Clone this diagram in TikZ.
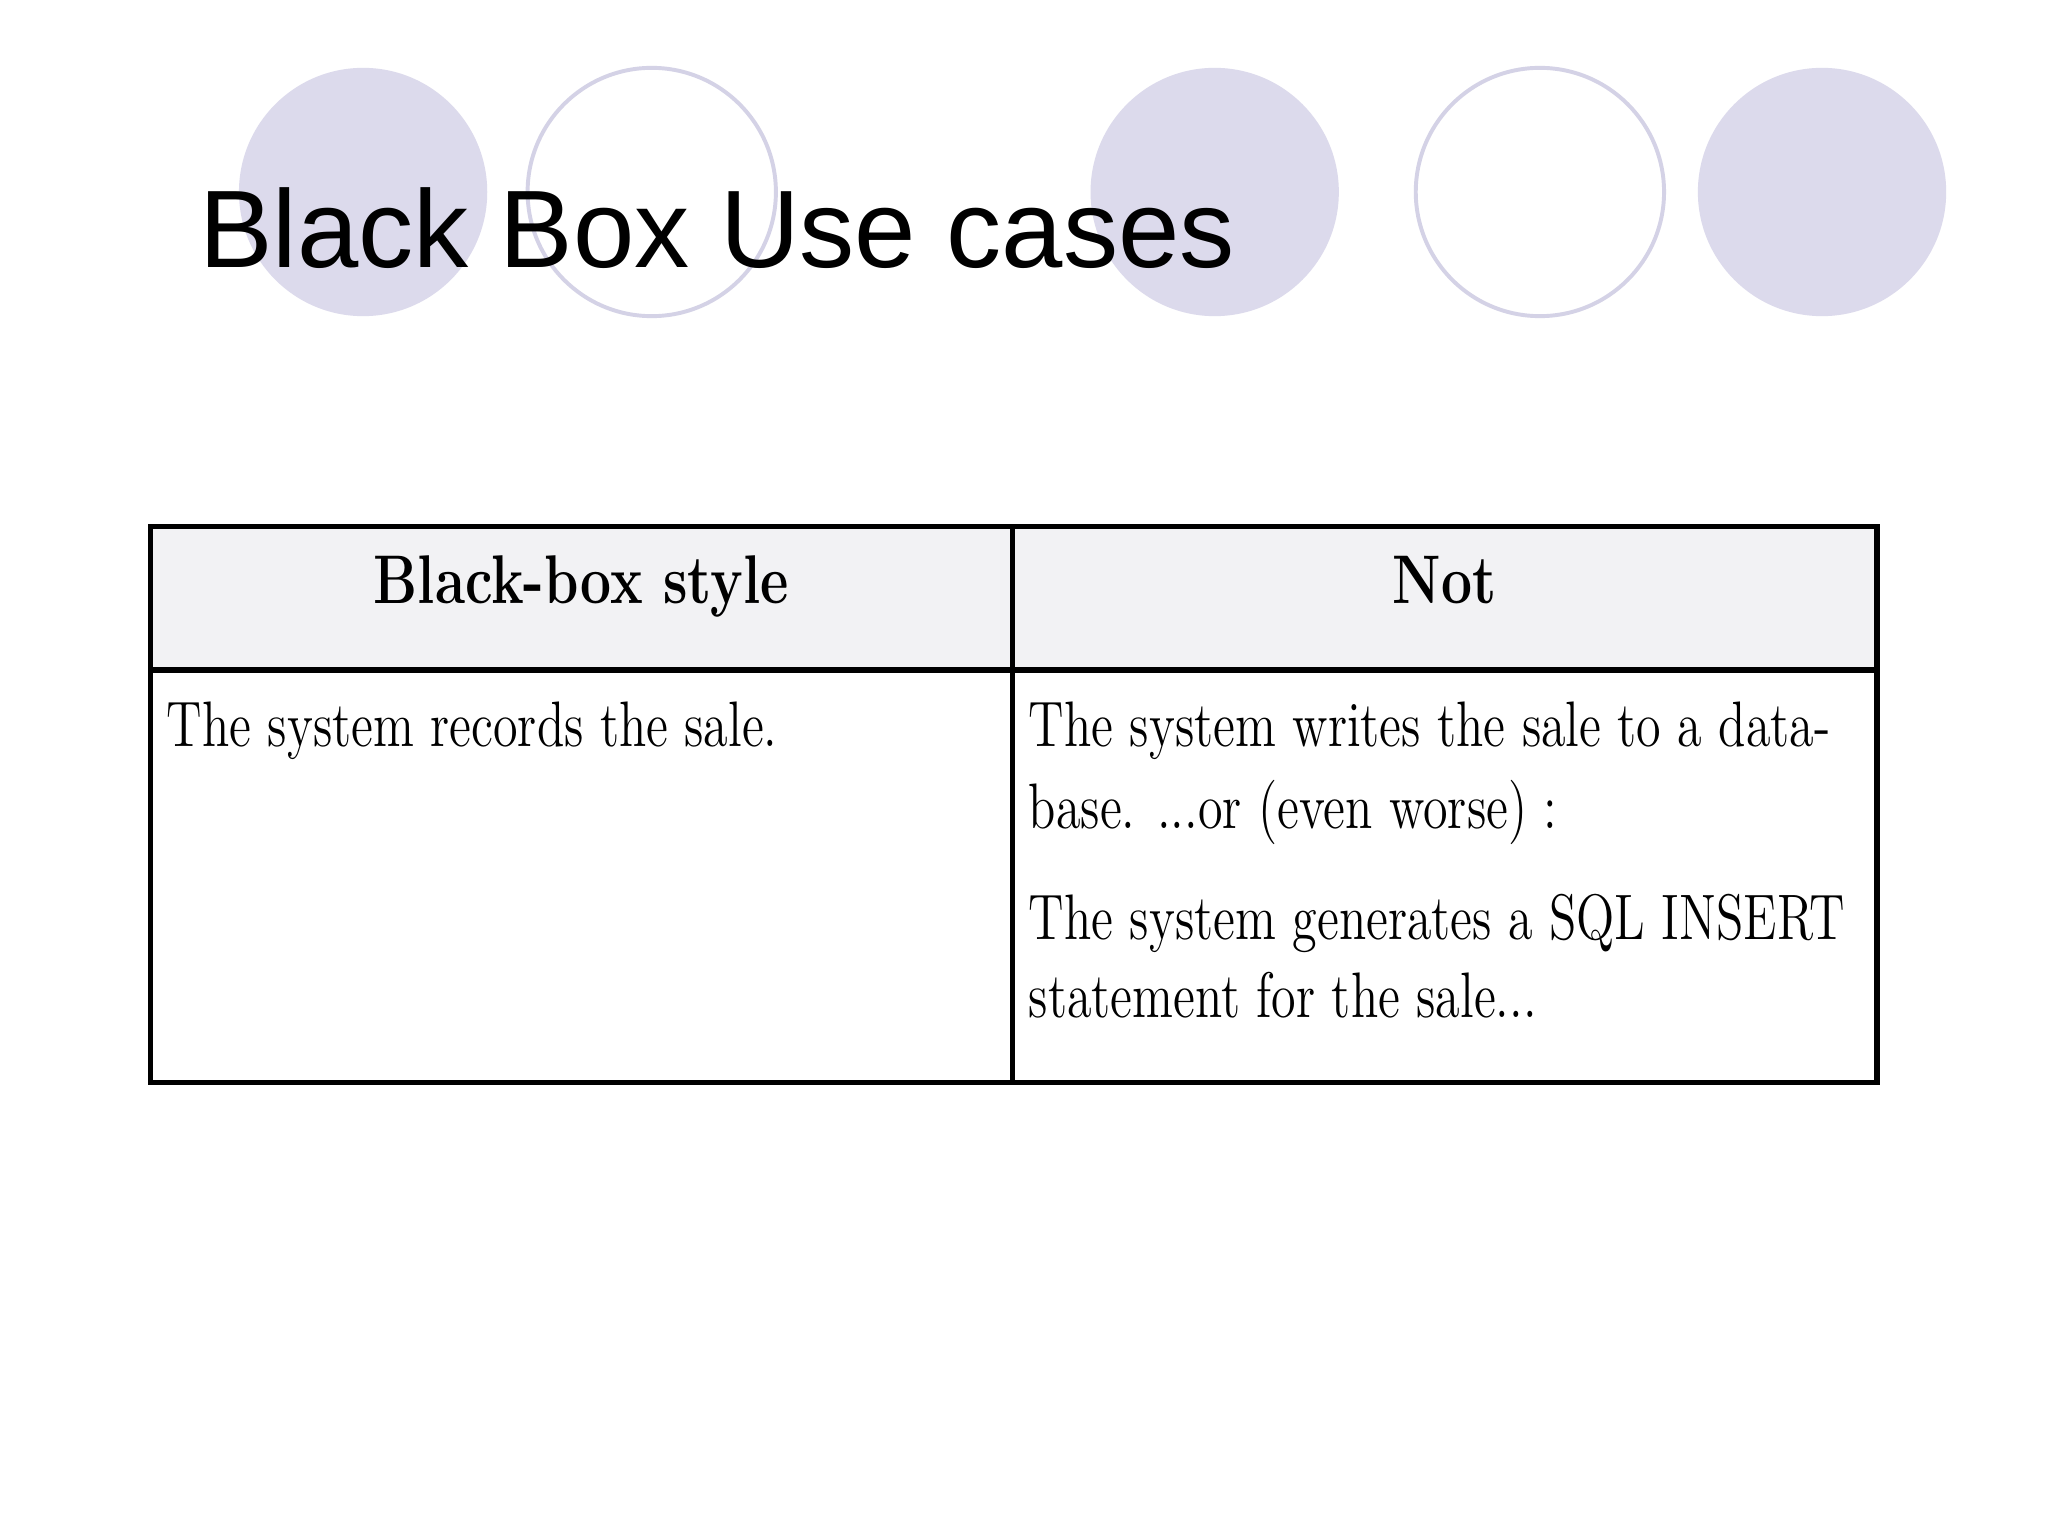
\documentclass[tikz,border=0pt]{standalone}
\usepackage{fontspec}
\newfontfamily\titlefont{Liberation Sans}
\definecolor{lav}{HTML}{DCDAEC}
\definecolor{lavline}{HTML}{D4D2E6}
\definecolor{hdr}{HTML}{F2F2F4}
\begin{document}
\begin{tikzpicture}[x=0.01cm,y=-0.01cm,
  filledc/.style={fill=lav,draw=none},
  openc/.style={draw=lavline,line width=0.03cm,fill=white},
  grid/.style={line width=0.04cm,draw=black},
  cell/.style={anchor=north west,inner sep=0pt,align=left,font=\fontsize{14}{17}\selectfont},
  hd/.style={anchor=north,inner sep=0pt,font=\fontsize{15}{18}\selectfont\bfseries}]
\useasboundingbox (0,0) rectangle (1568,1176);
\fill[white] (0,0) rectangle (1568,1176);
\node[filledc,circle,minimum size=1.9cm] (c1) at (278,147) {};
\node[openc,circle,minimum size=1.9cm] (c2) at (499,147) {};
\node[filledc,circle,minimum size=1.9cm] (c3) at (930,147) {};
\node[openc,circle,minimum size=1.9cm] (c4) at (1179,147) {};
\node[filledc,circle,minimum size=1.9cm] (c5) at (1395,147) {};
\node[anchor=base west,inner sep=0pt,font=\titlefont\fontsize{24}{28}\selectfont] (title) at (152,205) {Black Box Use cases};
\fill[hdr] (115,403) rectangle (1437,513);
\draw[grid] (115,403) rectangle (1437,829);
\draw[grid] (115,513) -- (1437,513);
\draw[grid] (775,403) -- (775,829);
\node[hd] (h1) at (445,425) {\scalebox{0.8}[1]{Black-box style}};
\node[hd] (h2) at (1106,425) {\scalebox{0.8}[1]{Not}};
\node[cell] (b1) at (127,537) {\scalebox{0.78}[1]{The system records the sale.}};
\node[cell] (b2) at (787,537) {\scalebox{0.78}[1]{The system writes the sale to a data-}};
\node[cell] (b3) at (787,597) {\scalebox{0.78}[1]{base. ...or (even worse) :}};
\node[cell] (b4) at (787,684) {\scalebox{0.78}[1]{The system generates a SQL INSERT}};
\node[cell] (b5) at (787,744) {\scalebox{0.78}[1]{statement for the sale...}};
\end{tikzpicture}
\end{document}
